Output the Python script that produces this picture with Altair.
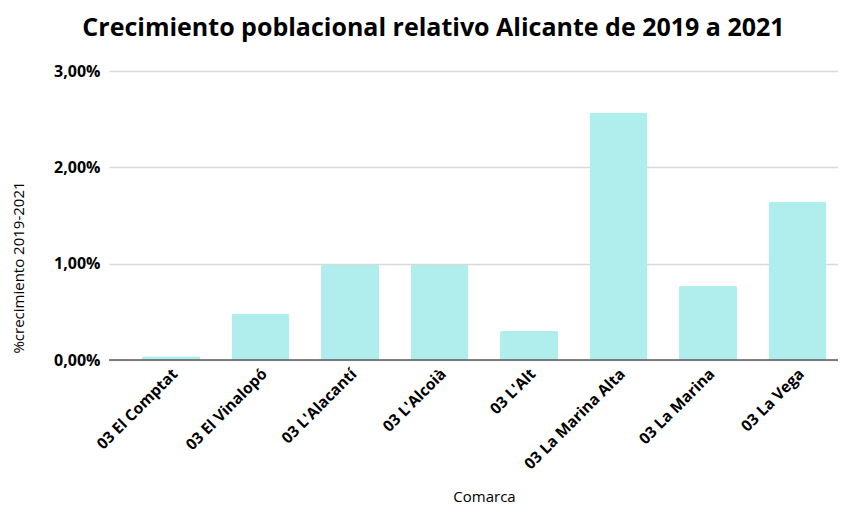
import altair as alt
import pandas as pd

comarcas = ["03 El Comptat", "03 El Vinalopó", "03 L'Alacantí", "03 L'Alcoià",
            "03 L'Alt", "03 La Marina Alta", "03 La Marina", "03 La Vega"]
crecimiento = [0.0004, 0.0048, 0.0099, 0.0099, 0.0030, 0.0257, 0.0077, 0.0164]
y_ticks = [0, 0.01, 0.02, 0.03]

df = pd.DataFrame({"Comarca": comarcas, "crec": crecimiento})

FONT = "Open Sans"

bars = alt.Chart(df).mark_bar(
    color="#AFEEEC", cornerRadiusTopLeft=2, cornerRadiusTopRight=2
).encode(
    x=alt.X("Comarca:N", sort=comarcas,
            scale=alt.Scale(paddingInner=0.352, paddingOuter=0.2486, align=0.742),
            axis=alt.Axis(title="Comarca", labelAngle=-45, labelAlign="right",
                          labelBaseline="middle", labelPadding=11, labelOffset=4,
                          ticks=False,
                          domain=False, grid=False, labelFontWeight="bold",
                          labelFontSize=15.5, labelColor="#000000", labelFont=FONT,
                          titleFont=FONT, titleFontSize=15, titleFontWeight="normal",
                          titleColor="#000000", titleY=141, titleBaseline="alphabetic",
                          titleX=375, titleAlign="center")),
    y=alt.Y("crec:Q", scale=alt.Scale(domain=[0, 0.03], nice=False),
            axis=alt.Axis(title="%crecimiento 2019-2021", values=y_ticks,
                          labelExpr="replace(format(datum.value, '.2%'), '.', ',')",
                          ticks=False, domain=False, gridColor="#D9D9D9", gridWidth=1.5,
                          labelFontWeight="bold", labelFontSize=16, labelColor="#000000",
                          labelFont=FONT, labelPadding=9,
                          titleFont=FONT, titleFontSize=15, titleFontWeight="normal",
                          titleColor="#000000", titleAngle=270, titleAlign="center",
                          titleBaseline="middle", titleX=-91, titleY=196)),
)

zero = alt.Chart(pd.DataFrame({"z": [0]})).mark_rule(color="#595959", strokeWidth=1.5).encode(
    y=alt.Y("z:Q", scale=alt.Scale(domain=[0, 0.03], nice=False))
)

chart = alt.layer(bars, zero).properties(
    width=729, height=289,
    padding={"left": 101, "top": 63, "right": 0, "bottom": 145},
    autosize=alt.AutoSizeParams(type="none"),
    title=alt.TitleParams(
        "Crecimiento poblacional relativo Alicante de 2019 a 2021",
        font=FONT, fontSize=25, fontWeight="bold", color="#000000",
        anchor="middle", frame="group", dx=-40, baseline="alphabetic", offset=2,
    ),
).configure_view(stroke=None)

chart.save("out.html", embed_options={"renderer": "svg", "actions": False})
